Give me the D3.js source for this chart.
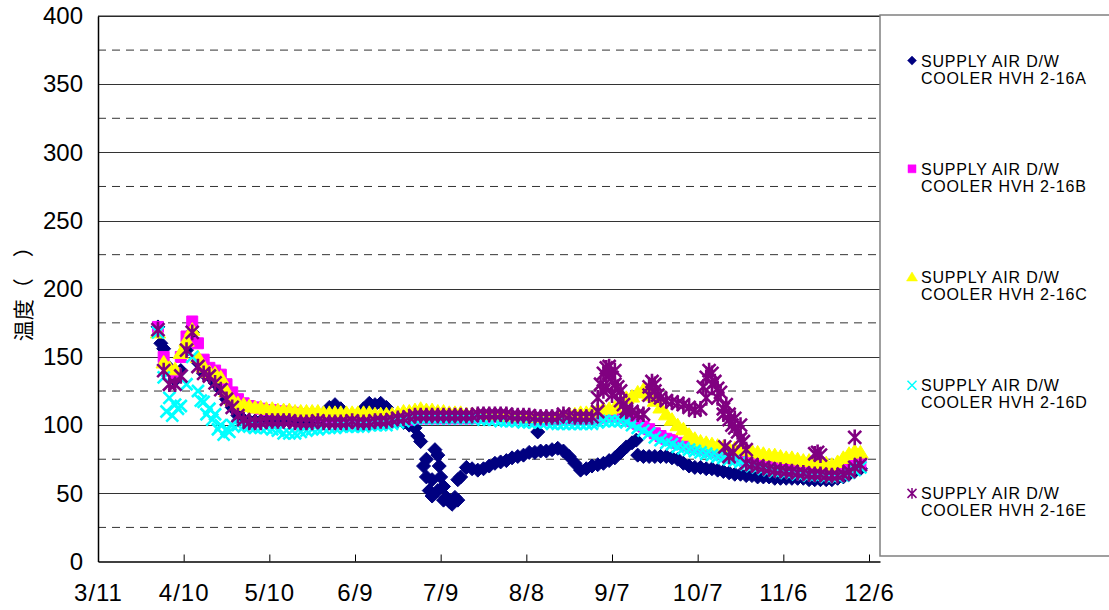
<!DOCTYPE html>
<html><head><meta charset="utf-8">
<script src="https://cdn.jsdelivr.net/npm/d3@7"></script>
<style>body{margin:0;background:#fff}svg{display:block}</style>
</head><body>
<svg id="chart" width="1109" height="610"></svg>
<script>
// ---- data ----
const xTickDays   = [0, 30, 60, 90, 120, 150, 180, 210, 240, 270];
const xTickLabels = ["3/11","4/10","5/10","6/9","7/9","8/8","9/7","10/7","11/6","12/6"];
const yTicks      = [0, 50, 100, 150, 200, 250, 300, 350, 400];
const yMinorTicks = [25, 75, 125, 175, 225, 275, 325, 375];
const yTitle = "温度（　）";
const seriesNames = [
  ["SUPPLY AIR D/W", "COOLER HVH 2-16A"],
  ["SUPPLY AIR D/W", "COOLER HVH 2-16B"],
  ["SUPPLY AIR D/W", "COOLER HVH 2-16C"],
  ["SUPPLY AIR D/W", "COOLER HVH 2-16D"],
  ["SUPPLY AIR D/W", "COOLER HVH 2-16E"]
];
// sample days (days after 3/11)
const days = [21,23,25,27,29,31,33,35,37,39, 41,43,45,47,49,51,53,55,57,59,
  61,63,65,67,69,71,73,75,77,79, 81,83,85,87,89,91,93,95,97,99,
  101,103,105,107,109,111,113,115,117,119, 121,123,125,127,129,131,133,135,137,139,
  141,143,145,147,149,151,153,155,157,159, 161,163,165,167,169,171,173,175,177,179,
  181,183,185,187,189,191,193,195,197,199, 201,203,205,207,209,211,213,215,217,219,
  221,223,225,227,229,231,233,235,237,239, 241,243,245,247,249,251,253,255,257,259,
  261,263,265,267];
const valuesA = [172,156,142,133,140,155,168,146,138,136, 131,126,119,113,107,104,103,103,103,103,
  103,103,103,103,103,103,103,103,103,108, 113,115,112,104,103,104,112,116,115,116,
  113,104,103,102,100,98,88,75,60,52, 45,44,47,62,69,68,67,68,70,72,
  73,74,76,77,78,80,80,81,81,82, 83,81,77,72,67,68,70,71,72,74,
  76,80,84,87,78,77,77,77,77,77, 76,75,72,70,69,69,68,68,67,66,
  65,64,64,63,63,62,62,62,61,61, 61,61,61,61,60,60,60,60,60,61,
  62,64,66,68];
const valuesB = [172,150,140,138,150,165,176,160,148,142, 140,137,130,124,119,116,114,113,112,111,
  111,110,110,109,109,108,108,108,107,107, 106,106,105,105,105,105,104,104,104,104,
  104,104,104,104,104,105,105,105,105,105, 105,105,105,105,105,105,106,106,106,106,
  106,106,105,105,105,105,104,104,104,104, 104,104,104,104,104,104,104,105,106,106,
  106,106,105,103,101,99,97,94,92,90, 89,87,86,85,84,83,82,81,80,79,
  78,77,76,74,73,72,71,70,69,69, 68,68,67,67,66,66,66,65,65,65,
  66,68,70,72];
const valuesC = [168,146,142,141,153,162,170,150,143,139, 138,135,125,119,116,115,114,113,113,112,
  112,111,111,111,110,110,110,110,110,109, 109,109,109,109,109,109,109,109,108,108,
  108,108,109,110,110,111,112,111,111,110, 110,109,109,109,108,108,108,108,107,107,
  107,107,107,107,106,106,106,106,106,106, 106,107,108,108,109,109,110,111,112,112,
  113,116,120,121,124,126,122,118,113,108, 104,100,97,93,90,88,87,86,85,84,
  83,83,82,82,81,80,79,78,78,77, 76,76,75,74,74,73,72,72,71,73,
  76,79,81,80];
const valuesD = [168,135,120,115,114,130,150,125,117,112, 108,100,97,100,100,99,99,98,98,98,
  97,96,94,94,94,95,96,97,97,98, 98,98,99,99,99,99,99,100,100,100,
  100,101,102,103,104,105,105,105,105,105, 105,105,105,105,105,105,105,104,104,104,
  103,103,103,103,102,102,102,102,102,101, 101,101,101,101,101,101,101,102,103,103,
  103,103,102,100,98,96,94,91,89,87, 86,84,83,82,81,80,79,78,77,76,
  75,74,73,71,70,69,68,67,66,66, 65,65,64,64,63,63,63,62,62,62,
  63,65,67,69];
const valuesE = [170,140,130,130,136,155,168,143,138,136, 131,126,119,113,107,104,102,102,102,103,
  103,103,103,103,102,102,102,102,103,102, 102,102,102,102,103,102,102,102,103,103,
  103,104,105,105,106,107,107,107,107,107, 107,107,107,107,107,107,108,108,108,108,
  108,108,107,107,107,107,106,106,106,106, 106,108,107,106,106,106,106,110,125,138,
  130,118,112,110,108,108,122,125,120,118, 117,116,115,113,111,112,120,130,120,108,
  104,98,90,72,71,70,69,68,67,67, 66,66,65,65,64,64,64,63,63,63,
  64,66,69,71];
// scattered extra readings
const extraDaysA   = [22,112,114,115,116,117,118,119,119.5,120,121,122,124,126,126,154,188.5];
const extraValuesA = [160,92,70,62,52,48,82,78,70,62,55,47,42,45,60,95,89];
const extraDaysD   = [24,26,28,36,38,40,42,44,46];
const extraValuesD = [110,107,112,118,108,104,97,93,95];
const extraDaysE   = [175,176,177,178,179,180,181,182,183,184,185,178,180,
  193,194,195,196, 212,213,214,215,216,217,218,
  219,220,221,222,223,224,225,226,227,219.5,221,222.5, 251,252,253,265];
const extraValuesE = [120,130,138,142,143,135,140,128,125,115,110,128,122,
  128,132,130,122, 128,135,140,138,132,127,124,
  112,115,108,100,105,95,100,88,82,84,77,80, 79,80,78,91];

// ---- layout ----
const svg = d3.select("#chart");
const L = 98, R = 880, T = 16, B = 561.5;
const x = d3.scaleLinear().domain([0, 273.85]).range([L, R]);
const y = d3.scaleLinear().domain([0, 400]).range([B, T]);
const gridColor = "#333";

// grid
svg.append("g").selectAll("line").data(yMinorTicks).join("line")
  .attr("x1", L).attr("x2", R).attr("y1", d => y(d)).attr("y2", d => y(d))
  .attr("stroke", gridColor).attr("stroke-width", 1).attr("stroke-dasharray", "8,6");
svg.append("g").selectAll("line").data(yTicks.filter(d => d > 0)).join("line")
  .attr("x1", L).attr("x2", R).attr("y1", d => Math.round(y(d)) + 0.5).attr("y2", d => Math.round(y(d)) + 0.5)
  .attr("stroke", gridColor).attr("stroke-width", 1);

// markers
const sym = {
  diamond: s => `M0,${-s}L${s},0L0,${s}L${-s},0Z`,
  square: s => `M${-s},${-s}H${s}V${s}H${-s}Z`,
  triangle: s => `M0,${-s}L${s*1.1},${s*0.8}L${-s*1.1},${s*0.8}Z`,
  cross: s => `M${-s},${-s}L${s},${s}M${-s},${s}L${s},${-s}`,
  star: s => `M${-s},${-s}L${s},${s}M${-s},${s}L${s},${-s}M0,${-s*1.2}L0,${s*1.2}`
};
const styles = [
  {color: "#000080", shape: "diamond", size: 7, fill: true},
  {color: "#FF00FF", shape: "square", size: 5.5, fill: true},
  {color: "#FFFF00", shape: "triangle", size: 7, fill: true},
  {color: "#00FFFF", shape: "cross", size: 6, fill: false},
  {color: "#800080", shape: "star", size: 6.5, fill: false}
];
const allValues = [valuesA, valuesB, valuesC, valuesD, valuesE];
const extras = [[extraDaysA, extraValuesA], null, null, [extraDaysD, extraValuesD], [extraDaysE, extraValuesE]];

const plot = svg.append("g");
allValues.forEach((vals, i) => {
  const st = styles[i];
  let pts = days.map((d, k) => [d, vals[k]]);
  if (extras[i]) pts = pts.concat(extras[i][0].map((d, k) => [d, extras[i][1][k]]));
  plot.append("g").selectAll("path").data(pts).join("path")
    .attr("transform", p => `translate(${x(p[0])},${y(p[1])})`)
    .attr("d", sym[st.shape](st.size))
    .attr("fill", st.fill ? st.color : "none")
    .attr("stroke", st.color)
    .attr("stroke-width", st.fill ? 1 : 2.6);
});

// axes
const xAxis = d3.axisBottom(x).tickValues(xTickDays).tickFormat((d, i) => xTickLabels[i])
  .tickSizeInner(-7).tickSizeOuter(0).tickPadding(22);
const gx = svg.append("g").attr("transform", `translate(0,${B})`).call(xAxis);
gx.select(".domain").attr("stroke", "#000").attr("stroke-width", 1.5);
gx.selectAll(".tick line").attr("stroke", "#000");
gx.selectAll("text").attr("font-family", "Liberation Sans, Arial, sans-serif").attr("font-size", 24)
  .attr("letter-spacing", 1).attr("fill", "#000");

const yAxis = d3.axisLeft(y).tickValues(yTicks).tickSize(0).tickPadding(15);
const gy = svg.append("g").attr("transform", `translate(${L},0)`).call(yAxis);
gy.select(".domain").attr("stroke", "#000").attr("stroke-width", 1.5);
gy.selectAll("text").attr("font-family", "Liberation Sans, Arial, sans-serif").attr("font-size", 24).attr("fill", "#000");

// top border
svg.append("line").attr("x1", L).attr("x2", R).attr("y1", T).attr("y2", T).attr("stroke", "#222").attr("stroke-width", 1);

// y title
svg.append("text").attr("transform", `translate(31,${(T + B) / 2}) rotate(-90)`)
  .attr("text-anchor", "middle").attr("font-family", "Noto Sans CJK JP").attr("font-size", 21)
  .attr("fill", "#000").text(yTitle);

// legend
const lg = svg.append("g");
lg.append("path").attr("d", `M1110,15H880V556H1110`).attr("fill", "none").attr("stroke", "#808080").attr("stroke-width", 1.5);
const step = (556 - 15) / 5;
seriesNames.forEach((nm, i) => {
  const cy = 15 + step * (i + 0.5);
  const st = styles[i];
  const mk = st.shape === "square" ? 4 : st.shape === "triangle" ? 5 : 4.5;
  lg.append("path").attr("transform", `translate(912,${cy - 8.5})`)
    .attr("d", sym[st.shape](mk))
    .attr("fill", st.fill ? st.color : "none").attr("stroke", st.color)
    .attr("stroke-width", st.fill ? 0.5 : 1.5);
  nm.forEach((line, j) => {
    lg.append("text").attr("x", 921).attr("y", cy - 8.5 + j * 17 + 6)
      .attr("font-family", "Liberation Sans, Arial, sans-serif").attr("font-size", 16)
      .attr("letter-spacing", 0.8).attr("fill", "#000").text(line);
  });
});
</script>
</body></html>
